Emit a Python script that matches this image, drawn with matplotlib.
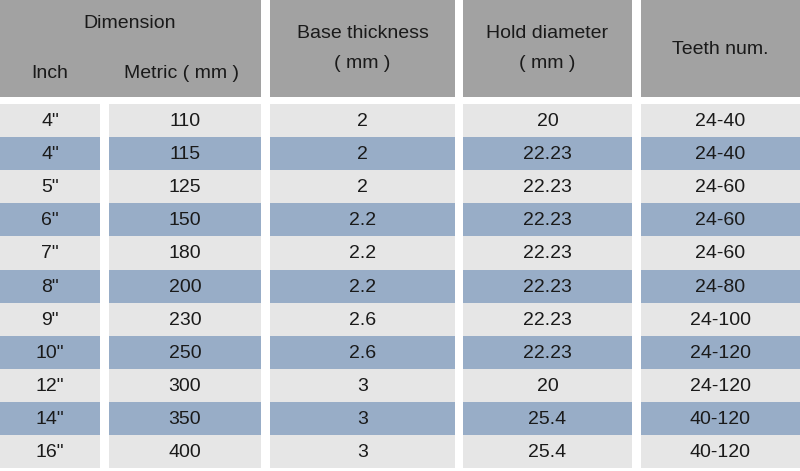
import matplotlib
matplotlib.use("Agg")
import matplotlib.pyplot as plt
from matplotlib.patches import Rectangle

plt.rcParams['font.family'] = ['Liberation Sans', 'DejaVu Sans']

inch = ['4"', '4"', '5"', '6"', '7"', '8"', '9"', '10"', '12"', '14"', '16"']
metric = ["110", "115", "125", "150", "180", "200", "230", "250", "300", "350", "400"]
base = ["2", "2", "2", "2.2", "2.2", "2.2", "2.6", "2.6", "3", "3", "3"]
hold = ["20", "22.23", "22.23", "22.23", "22.23", "22.23", "22.23", "22.23", "20", "25.4", "25.4"]
teeth = ["24-40", "24-40", "24-60", "24-60", "24-60", "24-80", "24-100", "24-120", "24-120", "40-120", "40-120"]
headers = ["Base thickness\n( mm )", "Hold diameter\n( mm )", "Teeth num."]

fig = plt.figure(figsize=(8, 4.71), dpi=100)
ax = fig.add_axes([0, 0, 1, 1])
ax.set_xlim(0, 800)
ax.set_ylim(471, 0)
ax.axis("off")

HDR = "#a2a2a2"
LIGHT = "#e6e6e6"
BLUE = "#98adc7"
TXT = "#1a1a1a"
fs = 14

cols = [(0, 100), (109, 261), (270, 455), (463, 632), (641, 800)]
for x0, x1 in [(0, 261), (270, 455), (463, 632), (641, 800)]:
    ax.add_patch(Rectangle((x0, 0), x1 - x0, 97, color=HDR, lw=0))
ax.text(130, 24, "Dimension", ha="center", va="center", fontsize=fs, color=TXT)
ax.text(50, 73, "Inch", ha="center", va="center", fontsize=fs, color=TXT)
ax.text(182, 73, "Metric ( mm )", ha="center", va="center", fontsize=fs, color=TXT)
for (x0, x1), h in zip(cols[2:], headers):
    ax.text((x0 + x1) / 2, 49, h, ha="center", va="center", fontsize=fs,
            color=TXT, linespacing=2.0)

top, rh = 104, 33.1
data = [inch, metric, base, hold, teeth]
for i in range(len(inch)):
    y = top + i * rh
    c = LIGHT if i % 2 == 0 else BLUE
    for (x0, x1), col in zip(cols, data):
        ax.add_patch(Rectangle((x0, y), x1 - x0, rh, color=c, lw=0))
        ax.text((x0 + x1) / 2, y + rh / 2 + 1, col[i], ha="center", va="center",
                fontsize=fs, color=TXT)

fig.savefig("out.png", dpi=100, facecolor="white")
